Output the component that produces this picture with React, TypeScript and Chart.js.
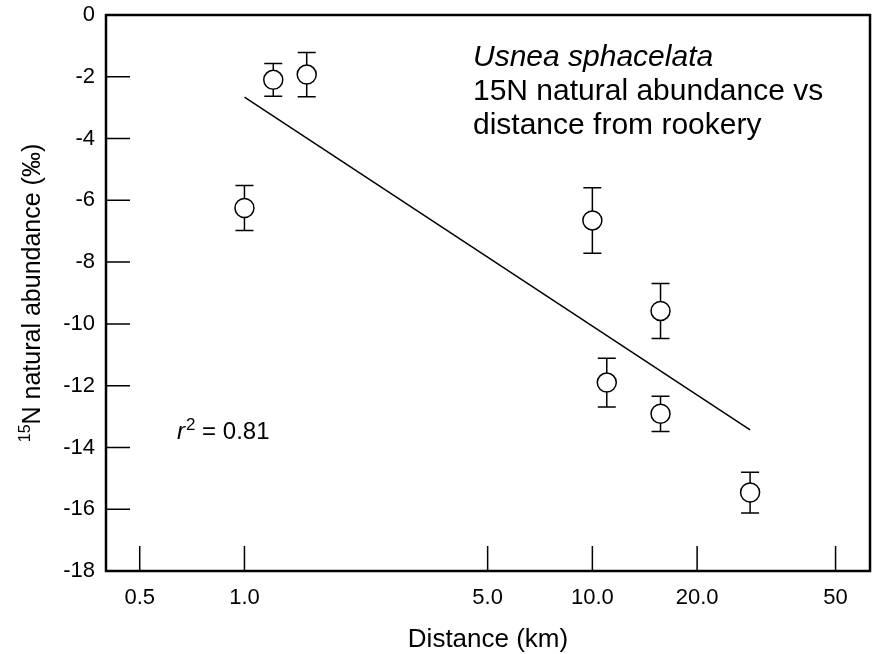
import React, { useEffect, useRef } from 'react';
import { Chart, registerables } from 'chart.js';

Chart.register(...registerables);

// Data
const distanceKm = [1.0, 1.21, 1.51, 10.0, 11.0, 15.7, 15.7, 28.4];
const delta15N = [-6.25, -2.1, -1.93, -6.65, -11.9, -9.58, -12.91, -15.46];
const errorSD = [0.73, 0.53, 0.72, 1.06, 0.79, 0.89, 0.57, 0.66];
const fitX = [1.0, 28.4];
const fitY = [-2.66, -13.43];
const xTickValues = [0.5, 1, 5, 10, 20, 50];
const xTickLabels = ['0.5', '1.0', '5.0', '10.0', '20.0', '50'];
const yTickValues = [0, -2, -4, -6, -8, -10, -12, -14, -16, -18];
const titleLines = ['Usnea sphacelata', '15N natural abundance vs', 'distance from rookery'];
const rSquared = '0.81';

const FONT = '"Liberation Sans", Arial, Helvetica, sans-serif';

export default function App() {
  const ref = useRef<HTMLCanvasElement | null>(null);

  useEffect(() => {
    if (!ref.current) return;

    const errorBars = {
      id: 'errorBars',
      beforeDatasetsDraw(chart: any) {
        const { ctx } = chart;
        const x = chart.scales.x;
        const y = chart.scales.y;
        ctx.save();
        ctx.strokeStyle = '#000';
        ctx.lineWidth = 1.5;
        distanceKm.forEach((d, i) => {
          const px = x.getPixelForValue(d);
          const top = y.getPixelForValue(delta15N[i] + errorSD[i]);
          const bot = y.getPixelForValue(delta15N[i] - errorSD[i]);
          ctx.beginPath();
          ctx.moveTo(px, top);
          ctx.lineTo(px, bot);
          ctx.moveTo(px - 9, top);
          ctx.lineTo(px + 9, top);
          ctx.moveTo(px - 9, bot);
          ctx.lineTo(px + 9, bot);
          ctx.stroke();
        });
        ctx.restore();
      },
    };

    const frame = {
      id: 'frame',
      afterDraw(chart: any) {
        const { ctx, chartArea } = chart;
        const x = chart.scales.x;
        const y = chart.scales.y;
        const { left, right, top, bottom } = chartArea;
        ctx.save();
        ctx.strokeStyle = '#000';
        // ticks
        ctx.lineWidth = 1.5;
        ctx.beginPath();
        yTickValues.forEach((v) => {
          const py = y.getPixelForValue(v);
          ctx.moveTo(left, py);
          ctx.lineTo(left + 24, py);
        });
        xTickValues.forEach((v) => {
          const px = x.getPixelForValue(v);
          ctx.moveTo(px, bottom);
          ctx.lineTo(px, bottom - 25);
        });
        ctx.stroke();
        // border
        ctx.lineWidth = 2.5;
        ctx.strokeRect(left, top, right - left, bottom - top);

        ctx.fillStyle = '#000';
        // y tick labels
        ctx.font = `22px ${FONT}`;
        ctx.textAlign = 'right';
        ctx.textBaseline = 'middle';
        yTickValues.forEach((v) => {
          ctx.fillText(String(v), left - 11, y.getPixelForValue(v));
        });
        // x tick labels
        ctx.textAlign = 'center';
        ctx.textBaseline = 'alphabetic';
        xTickValues.forEach((v, i) => {
          ctx.fillText(xTickLabels[i], x.getPixelForValue(v), bottom + 33);
        });
        // x axis title
        ctx.font = `26px ${FONT}`;
        ctx.fillText('Distance (km)', (left + right) / 2, 647);

        // y axis title
        ctx.save();
        ctx.translate(40, (top + bottom) / 2);
        ctx.rotate(-Math.PI / 2);
        ctx.textAlign = 'left';
        ctx.textBaseline = 'alphabetic';
        const supFont = `16px ${FONT}`;
        const mainFont = `25px ${FONT}`;
        const main = 'N natural abundance (‰)';
        ctx.font = supFont;
        const wSup = ctx.measureText('15').width;
        ctx.font = mainFont;
        const wMain = ctx.measureText(main).width;
        const start = -(wSup + wMain) / 2;
        ctx.font = supFont;
        ctx.fillText('15', start, -10);
        ctx.font = mainFont;
        ctx.fillText(main, start + wSup, 0);
        ctx.restore();

        // r squared
        ctx.textAlign = 'left';
        ctx.textBaseline = 'alphabetic';
        let rx = 177;
        const rb = 439;
        ctx.font = `italic 24px ${FONT}`;
        ctx.fillText('r', rx, rb);
        rx += ctx.measureText('r').width + 1;
        ctx.font = `17px ${FONT}`;
        ctx.fillText('2', rx, rb - 9);
        rx += ctx.measureText('2').width;
        ctx.font = `24px ${FONT}`;
        ctx.fillText(' = ' + rSquared, rx, rb);

        // title block
        ctx.font = `italic 30px ${FONT}`;
        ctx.fillText(titleLines[0], 473, 66);
        ctx.font = `30px ${FONT}`;
        ctx.fillText(titleLines[1], 473, 100);
        ctx.fillText(titleLines[2], 473, 134);
        ctx.restore();
      },
    };

    const chart = new Chart(ref.current, {
      type: 'scatter',
      data: {
        datasets: [
          {
            type: 'line',
            label: 'fit',
            data: fitX.map((v, i) => ({ x: v, y: fitY[i] })),
            borderColor: '#000',
            borderWidth: 1.5,
            pointRadius: 0,
            fill: false,
            order: 2,
          } as any,
          {
            label: 'δ15N',
            data: distanceKm.map((v, i) => ({ x: v, y: delta15N[i] })),
            pointRadius: 9.5,
            pointBackgroundColor: '#fff',
            pointBorderColor: '#000',
            pointBorderWidth: 1.5,
            order: 1,
          },
        ],
      },
      options: {
        responsive: false,
        animation: false,
        layout: { padding: { left: 106, top: 15, right: 4, bottom: 83 } },
        plugins: { legend: { display: false }, tooltip: { enabled: false } },
        scales: {
          x: { type: 'logarithmic', min: 0.4, max: 62.8, display: false },
          y: { type: 'linear', min: -18, max: 0, display: false },
        },
      },
      plugins: [errorBars, frame],
    });
    return () => chart.destroy();
  }, []);

  return (
    <div style={{ position: 'absolute', left: 0, top: 0, width: 881, height: 654, background: '#fff' }}>
      <canvas ref={ref} width={881} height={654} />
    </div>
  );
}
